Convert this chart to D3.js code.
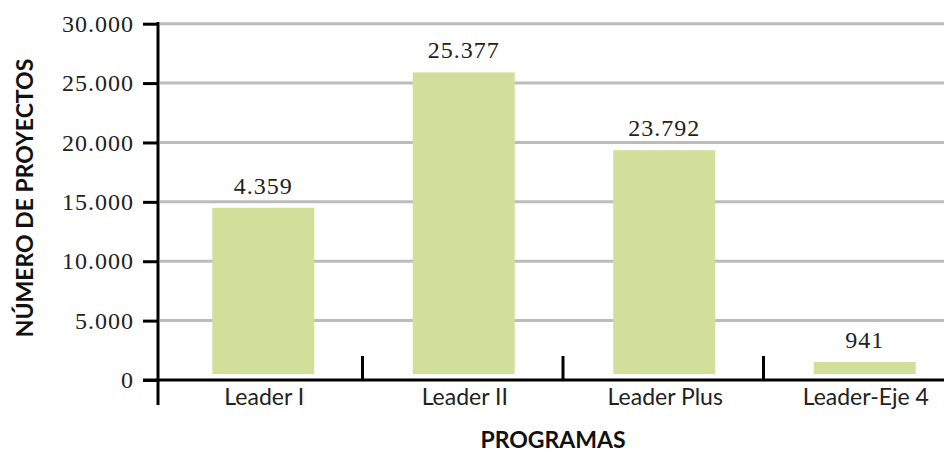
<!DOCTYPE html>
<html lang="es">
<head>
<meta charset="utf-8">
<title>Proyectos por programa Leader</title>
<script src="https://cdn.jsdelivr.net/npm/d3@7"></script>
<style>
  body { margin: 0; background: #fff; }
  svg { display: block; }
</style>
</head>
<body>
<script>
// categories and values
var programas = ["Leader I", "Leader II", "Leader Plus", "Leader-Eje 4"];
var alturas = [14500, 25900, 19350, 1520];          // bar tops as drawn
var etiquetas = ["4.359", "25.377", "23.792", "941"]; // printed labels
var yTicks = [0, 5000, 10000, 15000, 20000, 25000, 30000];
var base = 500; // bars float slightly above the axis

var w = 944, h = 454;
var svg = d3.select("body").append("svg").attr("width", w).attr("height", h);

var y = d3.scaleLinear().domain([0, 30000]).range([380, 23.7]);
var x = d3.scaleBand().domain(programas).range([162, 964]);
var barW = 102;

var fmt = function(d) { return d === 0 ? "0" : d3.format(",")(d).replace(/,/g, "."); };

// gridlines
svg.append("g").selectAll("line")
  .data(yTicks.slice(1))
  .enter().append("line")
  .attr("x1", 160).attr("x2", w)
  .attr("y1", function(d) { return y(d); })
  .attr("y2", function(d) { return y(d); })
  .attr("stroke", "#bcbcbc").attr("stroke-width", 3);

// bars
svg.append("g").selectAll("rect")
  .data(programas)
  .enter().append("rect")
  .attr("x", function(d) { return x(d) + (x.bandwidth() - barW) / 2 + 1; })
  .attr("width", barW)
  .attr("y", function(d, i) { return y(alturas[i]); })
  .attr("height", function(d, i) { return y(base) - y(alturas[i]); })
  .attr("fill", "#d2df9a");

// value labels
svg.append("g").selectAll("text")
  .data(programas)
  .enter().append("text")
  .attr("x", function(d) { return x(d) + x.bandwidth() / 2 + 1; })
  .attr("y", function(d, i) { return y(alturas[i]) - 14; })
  .attr("text-anchor", "middle")
  .attr("font-family", "Liberation Serif")
  .attr("font-size", 24)
  .attr("letter-spacing", 1)
  .attr("fill", "#222")
  .text(function(d, i) { return etiquetas[i]; });

// y axis
var yAxis = d3.axisLeft(y).tickValues(yTicks).tickSize(15).tickPadding(9).tickFormat(fmt);
var gy = svg.append("g").attr("transform", "translate(158,0)").call(yAxis);
gy.select(".domain").remove();
gy.selectAll(".tick line").attr("stroke", "#000").attr("stroke-width", 3);
gy.selectAll(".tick text")
  .attr("font-family", "Liberation Serif").attr("font-size", 24)
  .attr("letter-spacing", 1).attr("fill", "#222");

svg.append("line")
  .attr("x1", 158).attr("x2", 158).attr("y1", 22).attr("y2", 405)
  .attr("stroke", "#000").attr("stroke-width", 3);

// x axis
svg.append("line")
  .attr("x1", 143).attr("x2", w).attr("y1", y(0)).attr("y2", y(0))
  .attr("stroke", "#000").attr("stroke-width", 3);

svg.append("g").selectAll("line")
  .data(programas.slice(1))
  .enter().append("line")
  .attr("x1", function(d) { return x(d); })
  .attr("x2", function(d) { return x(d); })
  .attr("y1", y(0)).attr("y2", y(0) - 24)
  .attr("stroke", "#000").attr("stroke-width", 3);

svg.append("g").selectAll("text")
  .data(programas)
  .enter().append("text")
  .attr("x", function(d) { return x(d) + x.bandwidth() / 2 + 2; })
  .attr("y", 405)
  .attr("text-anchor", "middle")
  .attr("font-family", "Lato")
  .attr("font-size", 23)
  .attr("fill", "#222")
  .text(function(d) { return d; });

// axis titles
svg.append("text")
  .attr("x", 553).attr("y", 448)
  .attr("text-anchor", "middle")
  .attr("font-family", "Lato").attr("font-weight", "bold").attr("font-size", 23)
  .attr("fill", "#111")
  .text("PROGRAMAS");

svg.append("text")
  .attr("transform", "translate(33,198) rotate(-90)")
  .attr("text-anchor", "middle")
  .attr("font-family", "Lato").attr("font-weight", "bold").attr("font-size", 23)
  .attr("fill", "#111")
  .text("NÚMERO DE PROYECTOS");
</script>
</body>
</html>
